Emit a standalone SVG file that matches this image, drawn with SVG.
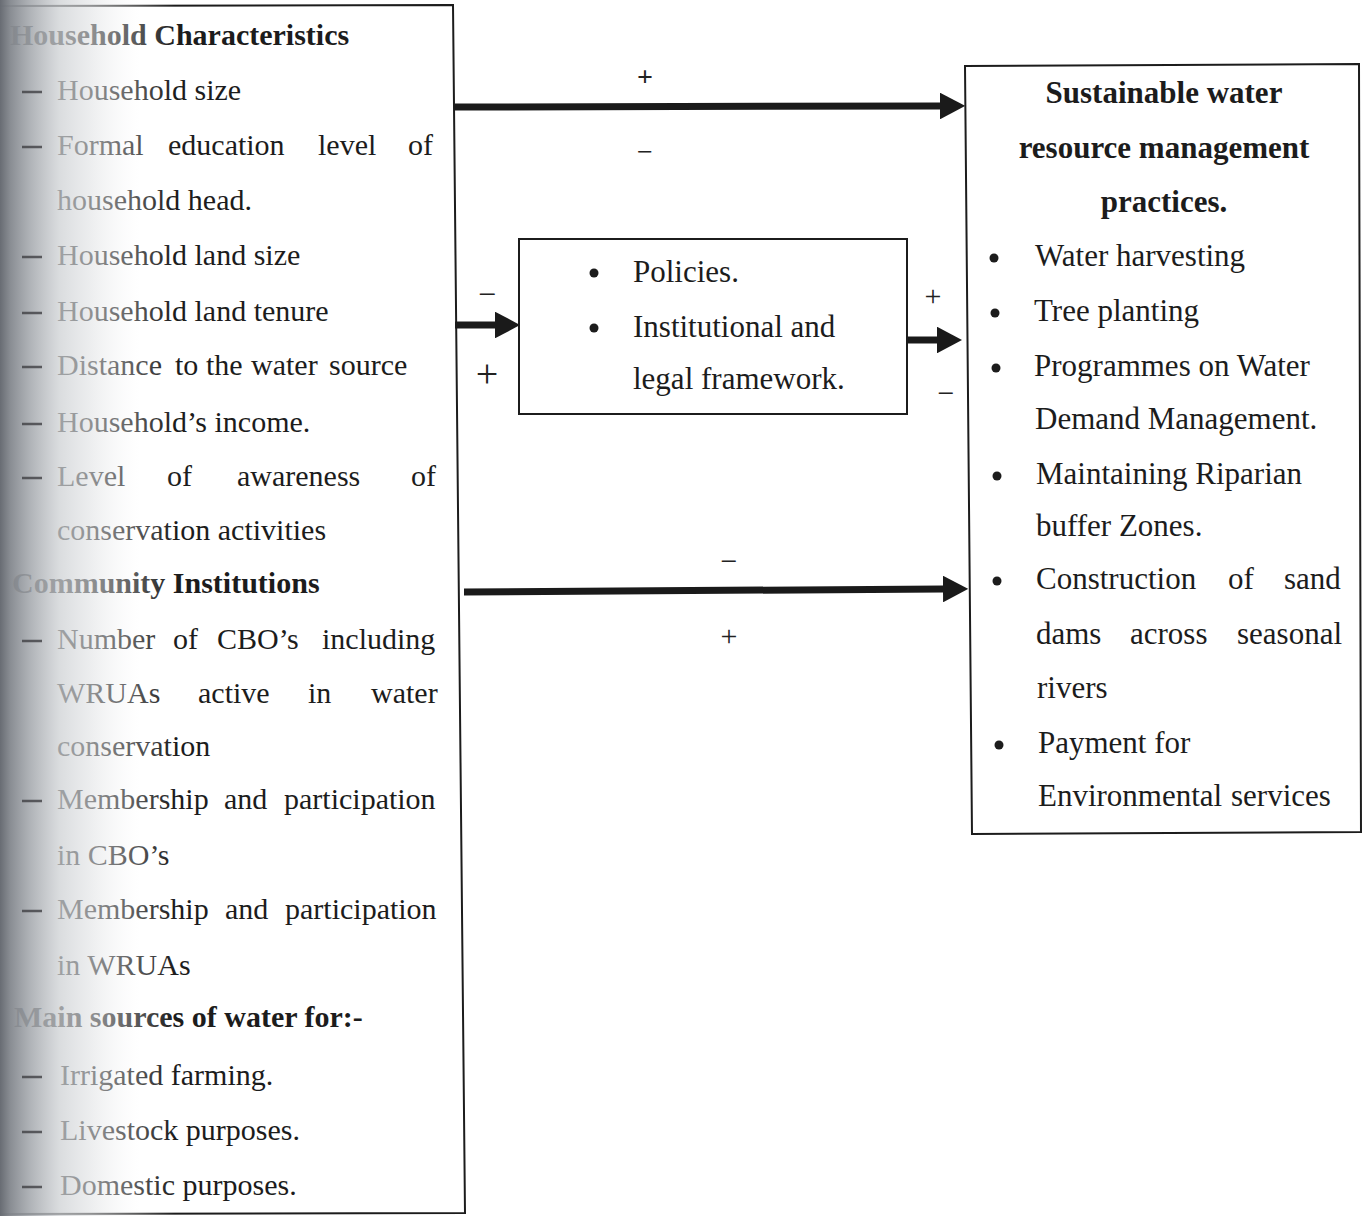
<svg xmlns="http://www.w3.org/2000/svg" width="1369" height="1216" viewBox="0 0 1369 1216">
<style>
.t{font-family:"Liberation Serif","Times New Roman",serif;font-size:30px;fill:#1c1c1c}
.b{font-weight:bold}
.m{font-size:31px}
.r{font-size:31px}
.box{fill:none;stroke:#1c1c1c;stroke-width:2}
.dash{stroke:#3e3f42;stroke-width:2.5;stroke-opacity:0.8}
.arr{stroke:#1a1a1a;stroke-width:7;fill:none}
.sg{font-family:"Liberation Serif","Times New Roman",serif;fill:#222;text-anchor:middle}
</style>
<defs>
<marker id="ah" markerUnits="strokeWidth" markerWidth="3.6" markerHeight="3.8" refX="0" refY="1.9" orient="auto">
<path d="M0,0 L3.6,1.9 L0,3.8 Z" fill="#1a1a1a"/>
</marker>
<linearGradient id="fade" x1="0" y1="0" x2="175" y2="0" gradientUnits="userSpaceOnUse">
<stop offset="0" stop-color="#686c73" stop-opacity="1"/>
<stop offset="0.06" stop-color="#868a90" stop-opacity="0.97"/>
<stop offset="0.17" stop-color="#a3a7ac" stop-opacity="0.87"/>
<stop offset="0.34" stop-color="#cdd0d3" stop-opacity="0.74"/>
<stop offset="0.51" stop-color="#dfe1e3" stop-opacity="0.6"/>
<stop offset="0.8" stop-color="#ffffff" stop-opacity="0.25"/>
<stop offset="1" stop-color="#ffffff" stop-opacity="0"/>
</linearGradient>
</defs>
<rect width="1369" height="1216" fill="#ffffff"/>

<g id="left-box">
<path class="box" d="M0,6 L453,5 L465,1213 L0,1214"/>
<text class="t b" x="10" y="45">Household Characteristics</text>
<text class="t" x="57" y="100">Household size</text>
<text class="t" y="155"><tspan x="57">Formal</tspan><tspan x="168">education</tspan><tspan x="318">level</tspan><tspan x="408">of</tspan></text>
<text class="t" x="57" y="210">household head.</text>
<text class="t" x="57" y="265">Household land size</text>
<text class="t" x="57" y="321">Household land tenure</text>
<text class="t" y="375"><tspan x="57">Distance</tspan><tspan x="175">to</tspan><tspan x="206">the</tspan><tspan x="251">water</tspan><tspan x="329">source</tspan></text>
<text class="t" x="57" y="432">Household’s income.</text>
<text class="t" y="486"><tspan x="57">Level</tspan><tspan x="167">of</tspan><tspan x="237">awareness</tspan><tspan x="411">of</tspan></text>
<text class="t" x="57" y="540">conservation activities</text>
<text class="t b" x="12" y="593">Community Institutions</text>
<text class="t" y="649"><tspan x="57">Number</tspan><tspan x="173">of</tspan><tspan x="217">CBO’s</tspan><tspan x="322">including</tspan></text>
<text class="t" y="703"><tspan x="57">WRUAs</tspan><tspan x="198">active</tspan><tspan x="308">in</tspan><tspan x="371">water</tspan></text>
<text class="t" x="57" y="756">conservation</text>
<text class="t" y="809"><tspan x="57">Membership</tspan><tspan x="224">and</tspan><tspan x="284">participation</tspan></text>
<text class="t" x="57" y="865">in CBO’s</text>
<text class="t" y="919"><tspan x="57">Membership</tspan><tspan x="225">and</tspan><tspan x="285">participation</tspan></text>
<text class="t" x="57" y="975">in WRUAs</text>
<text class="t b" x="14" y="1027">Main sources of water for:-</text>
<text class="t" x="60" y="1085">Irrigated farming.</text>
<text class="t" x="60" y="1140">Livestock purposes.</text>
<text class="t" x="60" y="1195">Domestic purposes.</text>
</g>

<g id="middle-box">
<rect class="box" x="519" y="239" width="388" height="175"/>
<circle cx="594" cy="273" r="4.5" fill="#1c1c1c"/>
<text class="t m" x="633" y="282">Policies.</text>
<circle cx="594" cy="328" r="4.5" fill="#1c1c1c"/>
<text class="t m" x="633" y="337">Institutional and</text>
<text class="t m" x="633" y="389">legal framework.</text>
</g>

<g id="right-box">
<path class="box" d="M965,66 L1359,64 L1361,832 L972,834 Z"/>
<text class="t r b" x="1164" y="103" text-anchor="middle">Sustainable water</text>
<text class="t r b" x="1164" y="158" text-anchor="middle">resource management</text>
<text class="t r b" x="1164" y="212" text-anchor="middle">practices.</text>
<circle cx="994" cy="258" r="4.5" fill="#1c1c1c"/>
<text class="t r" x="1035" y="266">Water harvesting</text>
<circle cx="995" cy="313" r="4.5" fill="#1c1c1c"/>
<text class="t r" x="1034" y="321">Tree planting</text>
<circle cx="996" cy="368" r="4.5" fill="#1c1c1c"/>
<text class="t r" x="1034" y="376">Programmes on Water</text>
<text class="t r" x="1035" y="429">Demand Management.</text>
<circle cx="997" cy="476" r="4.5" fill="#1c1c1c"/>
<text class="t r" x="1036" y="484">Maintaining Riparian</text>
<text class="t r" x="1036" y="536">buffer Zones.</text>
<circle cx="997" cy="581" r="4.5" fill="#1c1c1c"/>
<text class="t r" y="589"><tspan x="1036">Construction</tspan><tspan x="1228">of</tspan><tspan x="1284">sand</tspan></text>
<text class="t r" y="644"><tspan x="1036">dams</tspan><tspan x="1130">across</tspan><tspan x="1237">seasonal</tspan></text>
<text class="t r" x="1037" y="698">rivers</text>
<circle cx="999" cy="745" r="4.5" fill="#1c1c1c"/>
<text class="t r" x="1038" y="753">Payment for</text>
<text class="t r" y="806"><tspan x="1038">Environmental</tspan><tspan x="1231">services</tspan></text>
</g>

<g id="connectors">
<line class="arr" x1="455" y1="107" x2="940" y2="106" marker-end="url(#ah)"/>
<text class="sg" x="645" y="86" font-size="28" font-weight="bold">+</text>
<text class="sg" x="645" y="161" font-size="28">−</text>
<line class="arr" x1="455" y1="325" x2="495" y2="325" marker-end="url(#ah)"/>
<text class="sg" x="487" y="305" font-size="32">−</text>
<text class="sg" x="487" y="387" font-size="40">+</text>
<line class="arr" x1="907" y1="340" x2="937" y2="340" marker-end="url(#ah)"/>
<text class="sg" x="933" y="306" font-size="30">+</text>
<text class="sg" x="946" y="403" font-size="30">−</text>
<line class="arr" x1="464" y1="592" x2="943" y2="589" marker-end="url(#ah)"/>
<text class="sg" x="729" y="571" font-size="30">−</text>
<text class="sg" x="729" y="646" font-size="30">+</text>
</g>

<rect x="0" y="0" width="175" height="1216" fill="url(#fade)"/>

<g id="left-dashes">
<line class="dash" x1="22" y1="92" x2="42" y2="92"/>
<line class="dash" x1="22" y1="147" x2="42" y2="147"/>
<line class="dash" x1="22" y1="257" x2="42" y2="257"/>
<line class="dash" x1="22" y1="313" x2="42" y2="313"/>
<line class="dash" x1="22" y1="367" x2="42" y2="367"/>
<line class="dash" x1="22" y1="424" x2="42" y2="424"/>
<line class="dash" x1="22" y1="478" x2="42" y2="478"/>
<line class="dash" x1="22" y1="641" x2="42" y2="641"/>
<line class="dash" x1="22" y1="801" x2="42" y2="801"/>
<line class="dash" x1="22" y1="911" x2="42" y2="911"/>
<line class="dash" x1="22" y1="1077" x2="42" y2="1077"/>
<line class="dash" x1="22" y1="1132" x2="42" y2="1132"/>
<line class="dash" x1="22" y1="1187" x2="42" y2="1187"/>
</g>
</svg>
